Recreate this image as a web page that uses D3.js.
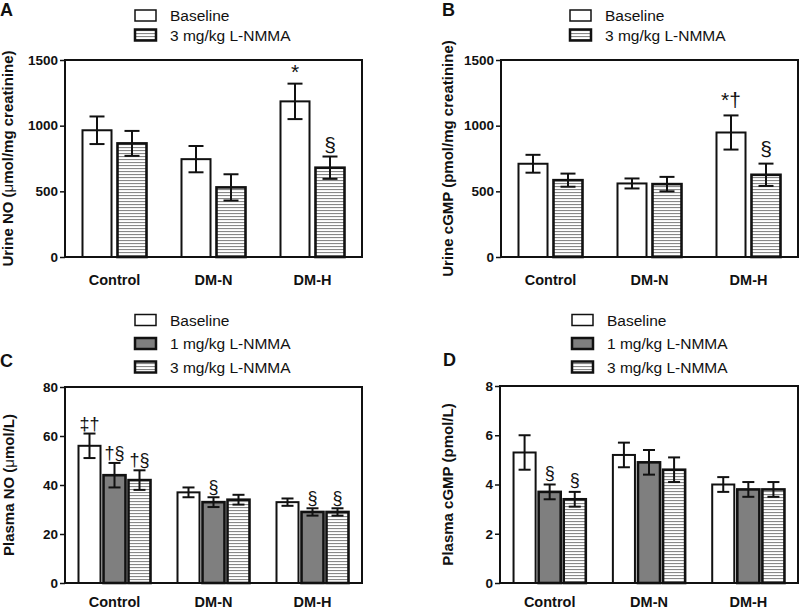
<!DOCTYPE html>
<html><head><meta charset="utf-8">
<script src="https://cdn.jsdelivr.net/npm/d3@7/dist/d3.min.js"></script>
<style>
html,body{margin:0;padding:0;background:#fff;}
svg{display:block;font-family:"Liberation Sans",Arial,sans-serif;}
</style></head>
<body>
<svg id="chart" width="800" height="611"></svg>
<script>
// ---------- data ----------
const categories = ["Control", "DM-N", "DM-H"];
const seriesTwo = ["Baseline", "3 mg/kg L-NMMA"];
const seriesThree = ["Baseline", "1 mg/kg L-NMMA", "3 mg/kg L-NMMA"];

const urineNOMean = [[965, 745, 1185], [865, 530, 680]];
const urineNOErr  = [[105, 100, 135], [95, 100, 85]];
const urineNOTicks = [0, 500, 1000, 1500];
const urineNOMarks = [[0, 2, "*"], [1, 2, "§"]];

const urineCGMPMean = [[710, 560, 948], [585, 555, 626]];
const urineCGMPErr  = [[68, 38, 130], [50, 55, 85]];
const urineCGMPTicks = [0, 500, 1000, 1500];
const urineCGMPMarks = [[0, 2, "*†"], [1, 2, "§"]];

const plasmaNOMean = [[56, 37, 33], [44, 33, 29], [42, 34, 29]];
const plasmaNOErr  = [[5, 2, 1.5], [5, 2, 1.5], [4, 2, 1.5]];
const plasmaNOTicks = [0, 20, 40, 60, 80];
const plasmaNOMarks = [[0, 0, "‡†"], [1, 0, "†§"], [2, 0, "†§"], [1, 1, "§"], [1, 2, "§"], [2, 2, "§"]];

const plasmaCGMPMean = [[5.3, 5.2, 4.0], [3.7, 4.9, 3.8], [3.4, 4.6, 3.8]];
const plasmaCGMPErr  = [[0.7, 0.5, 0.3], [0.3, 0.5, 0.3], [0.3, 0.5, 0.3]];
const plasmaCGMPTicks = [0, 2, 4, 6, 8];
const plasmaCGMPMarks = [[1, 0, "§"], [2, 0, "§"]];

// ---------- drawing ----------
const svg = d3.select("#chart");
const defs = svg.append("defs");
const hatch = defs.append("pattern").attr("id", "hatch")
  .attr("patternUnits", "userSpaceOnUse").attr("width", 6).attr("height", 3);
hatch.append("rect").attr("width", 6).attr("height", 3).attr("fill", "#fff");
hatch.append("rect").attr("y", 0).attr("width", 6).attr("height", 1.1).attr("fill", "#888");

function fillFor(name) {
  if (name === "Baseline") return "#fff";
  if (name.startsWith("1 mg")) return "#7f7f7f";
  return "url(#hatch)";
}

function drawPanel(o) {
  const w = o.right - o.left, h = o.bottom - o.top;
  const g = svg.append("g").attr("transform", `translate(${o.left},${o.top})`);
  const y = d3.scaleLinear().domain([o.ticks[0], o.ticks[o.ticks.length - 1]]).range([h, 0]);
  const x = d3.scaleBand().domain(categories).range([0, w]).padding(0);
  const n = o.series.length;
  const xi = d3.scaleBand().domain(o.series).range([0, x.bandwidth()])
    .paddingInner(n === 2 ? 0.171 : 0.12).paddingOuter(n === 2 ? 0.5 : 0.54);

  // bars
  o.series.forEach((s, si) => {
    categories.forEach((c, ci) => {
      const v = o.mean[si][ci];
      const bx = x(c) + xi(s);
      g.append("rect").attr("x", bx).attr("y", y(v))
        .attr("width", xi.bandwidth()).attr("height", y(0) - y(v))
        .attr("fill", fillFor(s)).attr("stroke", "#111")
        .attr("stroke-width", s === "Baseline" ? 2 : 2.6);
      const e = o.err[si][ci];
      const cx = bx + xi.bandwidth() / 2;
      const cap = n === 2 ? 7.5 : 6;
      const eg = g.append("g").attr("stroke", "#111").attr("stroke-width", 2);
      eg.append("line").attr("x1", cx).attr("x2", cx).attr("y1", y(v - e)).attr("y2", y(v + e));
      eg.append("line").attr("x1", cx - cap).attr("x2", cx + cap).attr("y1", y(v + e)).attr("y2", y(v + e));
      eg.append("line").attr("x1", cx - cap).attr("x2", cx + cap).attr("y1", y(v - e)).attr("y2", y(v - e));
    });
  });

  // annotations
  o.marks.forEach(([si, ci, label]) => {
    const s = o.series[si], c = categories[ci];
    const cx = x(c) + xi(s) + xi.bandwidth() / 2;
    g.append("text").attr("x", cx).attr("y", y(o.mean[si][ci] + o.err[si][ci]) - o.markGap)
      .attr("text-anchor", "middle").attr("font-size", o.markSize).attr("fill", "#111")
      .text(label);
  });

  // frame
  g.append("rect").attr("x", 0).attr("y", 0).attr("width", w).attr("height", h)
    .attr("fill", "none").attr("stroke", "#111").attr("stroke-width", 2);

  // y axis
  const ax = g.append("g").call(d3.axisLeft(y).tickValues(o.ticks).tickSize(5).tickPadding(2).tickFormat(d3.format("d")));
  ax.select(".domain").remove();
  ax.selectAll(".tick line").attr("stroke", "#111").attr("stroke-width", 1.5);
  ax.selectAll(".tick text").attr("font-size", 13.5).attr("font-weight", "bold").attr("fill", "#111")
    .attr("font-family", "'Liberation Sans', Arial, sans-serif");

  // x labels
  const xa = g.append("g").attr("transform", `translate(0,${h})`)
    .call(d3.axisBottom(x).tickSize(0).tickPadding(0));
  xa.select(".domain").remove();
  xa.selectAll(".tick text").attr("font-size", 14.5).attr("font-weight", "bold").attr("fill", "#111")
    .attr("dy", 0).attr("y", o.catY).attr("font-family", "'Liberation Sans', Arial, sans-serif");

  // y title
  const t = svg.append("text")
    .attr("transform", `translate(${o.titleX},${o.top + h / 2}) rotate(-90)`)
    .attr("text-anchor", "middle").attr("dy", "0.36em")
    .attr("font-size", 15).attr("font-weight", "bold").attr("fill", "#111");
  o.title.forEach(([txt, bold]) => t.append("tspan").attr("font-weight", bold ? "bold" : "normal").text(txt));

  // panel letter
  svg.append("text").attr("x", o.letterX).attr("y", o.letterY)
    .attr("font-size", 18).attr("font-weight", "bold").attr("fill", "#111").text(o.letter);

  // legend
  o.series.forEach((s, si) => {
    const cy = o.legY + si * o.legStep;
    svg.append("rect").attr("x", o.legX).attr("y", cy - 5.5).attr("width", 21).attr("height", 11)
      .attr("fill", fillFor(s))
      .attr("stroke", "#111").attr("stroke-width", s === "Baseline" ? 1.5 : 2.5);
    svg.append("text").attr("x", o.legX + 35).attr("y", cy + 5.5)
      .attr("font-size", 15.5).attr("fill", "#111").text(s);
  });
}

drawPanel({ left: 65, top: 60, right: 362, bottom: 257, series: seriesTwo,
  mean: urineNOMean, err: urineNOErr, ticks: urineNOTicks, marks: urineNOMarks, catY: 28,
  markGap: 5, markSize: 21, title: [["Urine NO (", true], ["μ", false], ["mol/mg creatinine)", true]],
  titleX: 8, letter: "A", letterX: 0, letterY: 16, legX: 135, legY: 15.5, legStep: 19.5 });

drawPanel({ left: 501, top: 60, right: 798, bottom: 257, series: seriesTwo,
  mean: urineCGMPMean, err: urineCGMPErr, ticks: urineCGMPTicks, marks: urineCGMPMarks, catY: 28,
  markGap: 8, markSize: 21, title: [["Urine cGMP (pmol/mg creatinine)", true]],
  titleX: 448, letter: "B", letterX: 442, letterY: 16, legX: 570, legY: 15.5, legStep: 19.5 });

drawPanel({ left: 65, top: 387, right: 362, bottom: 583, series: seriesThree,
  mean: plasmaNOMean, err: plasmaNOErr, ticks: plasmaNOTicks, marks: plasmaNOMarks, catY: 24,
  markGap: 4, markSize: 18, title: [["Plasma NO (", true], ["μ", false], ["mol/L)", true]],
  titleX: 8.5, letter: "C", letterX: 0, letterY: 367, legX: 135, legY: 320, legStep: 23.5 });

drawPanel({ left: 500, top: 386, right: 798, bottom: 583, series: seriesThree,
  mean: plasmaCGMPMean, err: plasmaCGMPErr, ticks: plasmaCGMPTicks, marks: plasmaCGMPMarks, catY: 24,
  markGap: 6, markSize: 18, title: [["Plasma cGMP (pmol/L)", true]],
  titleX: 448, letter: "D", letterX: 443, letterY: 366, legX: 572, legY: 320, legStep: 23.5 });
</script>
</body></html>
